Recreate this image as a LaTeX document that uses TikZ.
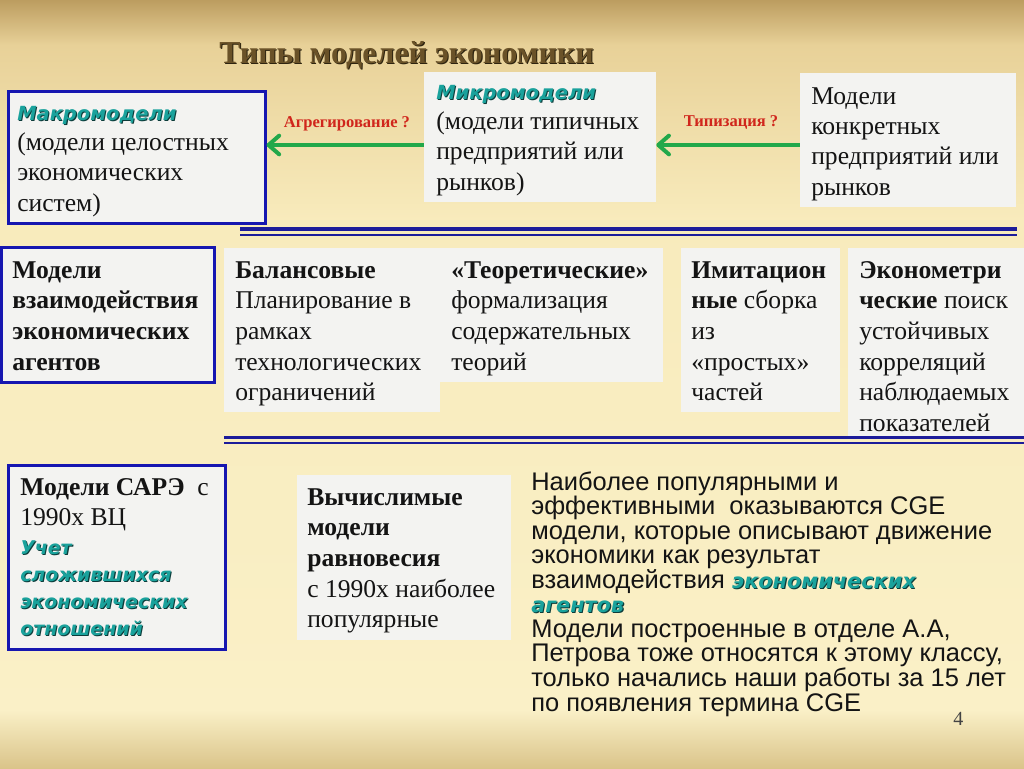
\documentclass[tikz,border=0pt]{standalone}
\usepackage{fontspec}
\setmainfont{Liberation Serif}
\newfontfamily\sansf{Liberation Sans}
\newfontfamily\tealfam{DejaVu Sans}
\usetikzlibrary{arrows.meta,fit}
\definecolor{bg0}{HTML}{BC9D60}
\definecolor{bg1}{HTML}{E8D198}
\definecolor{bg2}{HTML}{F8EBBC}
\definecolor{bg3}{HTML}{FAF0C7}
\definecolor{bg4}{HTML}{DAC48A}
\definecolor{boxfill}{HTML}{F3F3F1}
\definecolor{boxblue}{HTML}{1616B0}
\definecolor{lineblue}{HTML}{1C1C9A}
\definecolor{tealc}{HTML}{1AA29C}
\definecolor{tealsh}{HTML}{0C3C3A}
\definecolor{arrgreen}{HTML}{22A84A}
\definecolor{labred}{HTML}{D0261C}
\definecolor{titlec}{HTML}{6A5228}
\definecolor{titlesh}{HTML}{2E2410}
\definecolor{txtc}{HTML}{141414}
\newcommand\ml[1]{\vtop{\lineskiplimit=-100pt\lineskip=0pt\halign{##\hfil\cr#1\crcr}}}
\newcommand\shtext[3]{\leavevmode\rlap{\kern0.8pt\raisebox{-0.8pt}{\color{#2}#3}}{\color{#1}#3}}
\newcommand\tealw[2][14.6]{{\tealfam\bfseries\itshape\fontsize{#1}{#1}\selectfont\shtext{tealc}{tealsh}{#2}}}
\tikzset{
  plainbox/.style={fill=boxfill, inner sep=0pt},
  bluebox/.style={fill=boxfill, draw=boxblue, line width=2.25pt, inner sep=0pt},
  txt/.style={anchor=base west, inner sep=0pt, text=txtc, font=\fontsize{19.2}{22.8}\selectfont},
  sanstxt/.style={anchor=base west, inner sep=0pt, text=txtc, font=\sansf\fontsize{19.1}{18.42}\selectfont},
  garrow/.style={draw=arrgreen, line width=3pt, -{Straight Barb[length=8pt,width=14pt,round]}},
  redlab/.style={anchor=base, inner sep=0pt, text=labred, font=\bfseries\fontsize{12.4}{12.4}\selectfont},
  dlinea/.style={draw=lineblue, line width=2.6pt},
  dlineb/.style={draw=lineblue, line width=1.5pt}
}
\begin{document}
\begin{tikzpicture}[x=0.75pt,y=-0.75pt]
\useasboundingbox (0,0) rectangle (1024,768);
% background
\fill[top color=bg0,bottom color=bg1] (0,0) rectangle (1024,45);
\fill[top color=bg1,bottom color=bg2] (0,45) rectangle (1024,220);
\fill[top color=bg2,bottom color=bg3] (0,220) rectangle (1024,710);
\fill[top color=bg3,bottom color=bg4] (0,710) rectangle (1024,768);
% title
\node[anchor=base west, inner sep=0pt, font=\bfseries\fontsize{24}{24}\selectfont] (title) at (219,63) {\shtext{titlec}{titlesh}{Типы моделей экономики}};
% boxes row 1
\node[bluebox, fit={(8,91)(265,223)}] (makro) {};
\node[plainbox, fit={(424,72)(656,202)}] (micro) {};
\node[plainbox, fit={(800,73)(1016,207)}] (konkr) {};
\node[txt] (makroT) at (17,120) {\ml{\tealw{Макромодели}\cr (модели целостных\cr экономических\cr систем)}};
\node[txt] (microT) at (436,99) {\ml{\tealw{Микромодели}\cr (модели типичных\cr предприятий или\cr рынков)}};
\node[txt] (konkrT) at (811,104) {\ml{Модели\cr конкретных\cr предприятий или\cr рынков}};
% arrows
\coordinate (ya) at (0,145);
\draw[garrow] (micro.west |- ya) -- (makro.east |- ya);
\draw[garrow] (konkr.west |- ya) -- (micro.east |- ya);
\node[redlab] (lab1) at (347,127) {Агрегирование ?};
\node[redlab] (lab2) at (731,126) {Типизация ?};
% row 2
\node[bluebox, fit={(1.5,247)(214,382)}] (agents) {};
\node[plainbox, fit={(224,248)(440,412)}] (bal) {};
\node[plainbox, fit={(440,248)(663,382)}] (teor) {};
\node[plainbox, fit={(681,248)(840,412)}] (imit) {};
\node[plainbox, fit={(848,248)(1024,436)}] (econ) {};
\node[txt, font=\bfseries\fontsize{19.2}{23}\selectfont] (agentsT) at (12,278) {\ml{Модели\cr взаимодействия\cr экономических\cr агентов}};
\node[txt, font=\fontsize{19.2}{23}\selectfont] (balT) at (235,278) {\ml{\textbf{Балансовые}\cr Планирование в\cr рамках\cr технологических\cr ограничений}};
\node[txt, font=\fontsize{19.2}{23}\selectfont] (teorT) at (451,278) {\ml{\textbf{«Теоретические»}\cr формализация\cr содержательных\cr теорий}};
\node[txt, font=\fontsize{19.2}{23}\selectfont] (imitT) at (691,278) {\ml{\textbf{Имитацион}\cr \textbf{ные} сборка\cr из\cr «простых»\cr частей}};
\node[txt, font=\fontsize{19.2}{23}\selectfont] (econT) at (859,278) {\ml{\textbf{Эконометри}\cr \textbf{ческие} поиск\cr устойчивых\cr корреляций\cr наблюдаемых\cr показателей}};
% double lines
\draw[dlinea] (240,229) -- (1017,229);
\draw[dlineb] (240,234.5) -- (1017,234.5);
\draw[dlinea] (224,437.5) -- (1024,437.5);
\draw[dlineb] (224,443) -- (1024,443);
% row 3
\node[bluebox, fit={(8,465)(225,649)}] (sare) {};
\node[plainbox, fit={(297,475)(511,640)}] (vych) {};
\node[txt, font=\fontsize{19.2}{23}\selectfont] (sareT) at (20,495) {\ml{\textbf{Модели САРЭ}\ \ с\cr 1990х ВЦ}};
\node[txt, font=\fontsize{20.25}{20.25}\selectfont] (sareU) at (20,554) {\ml{\tealw[14.2]{Учет}\cr \tealw[14.2]{сложившихся}\cr \tealw[14.2]{экономических}\cr \tealw[14.2]{отношений}}};
\node[txt, font=\fontsize{19.2}{23}\selectfont] (vychT) at (307,505) {\ml{\textbf{Вычислимые}\cr \textbf{модели}\cr \textbf{равновесия}\cr с 1990х наиболее\cr популярные}};
\node[sanstxt] (cge) at (531,490) {\ml{Наиболее популярными и\cr эффективными\ \ оказываются CGE\cr модели, которые описывают движение\cr экономики как результат\cr взаимодействия \tealw[15.6]{экономических}\cr \tealw[15.6]{агентов}\cr Модели построенные в отделе А.А,\cr Петрова тоже относятся к этому классу,\cr только начались наши работы за 15 лет\cr по появления термина CGE}};
\node[anchor=base west, inner sep=0pt, text=txtc!80, font=\fontsize{15}{15}\selectfont] (pnum) at (953,725) {4};
\end{tikzpicture}
\end{document}
